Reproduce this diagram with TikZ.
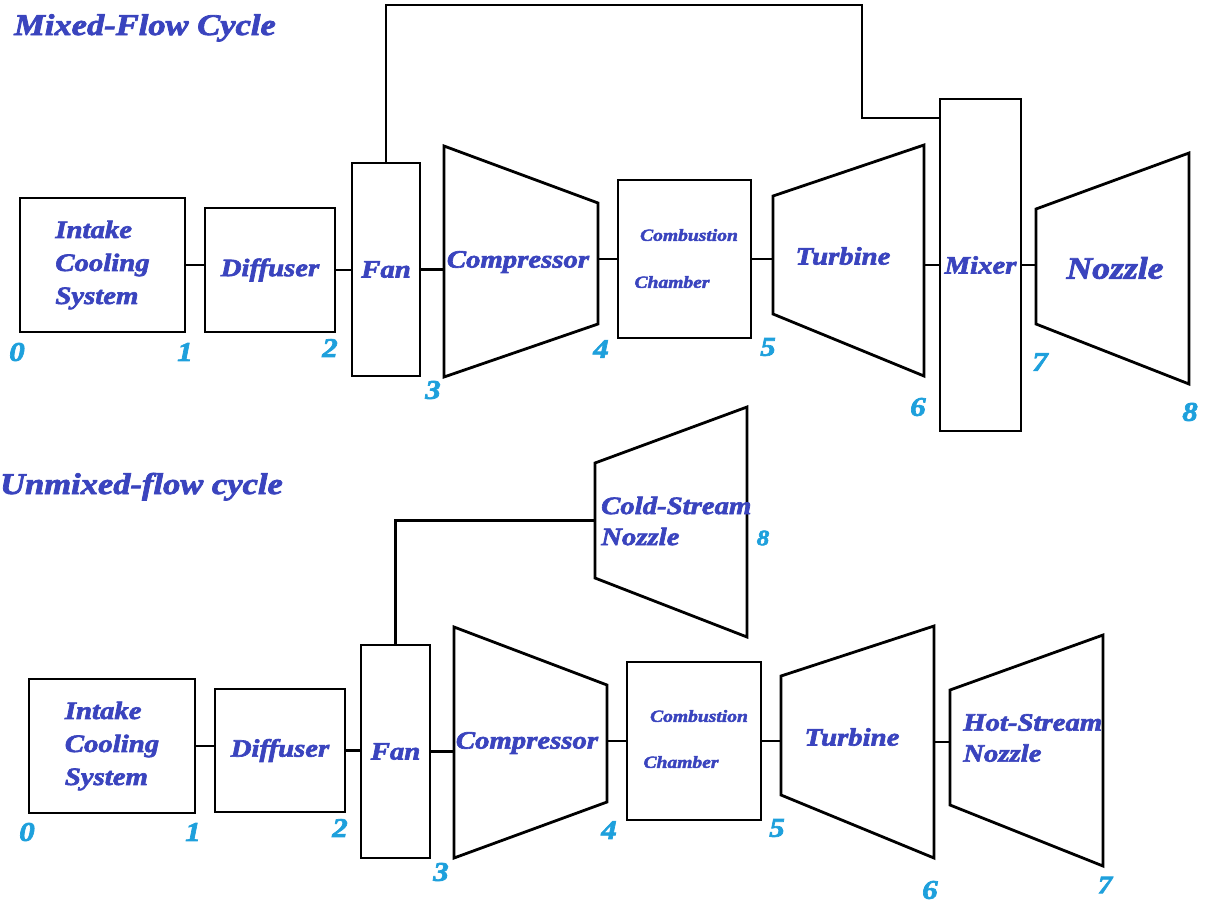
\documentclass[tikz,border=0pt]{standalone}
\usepackage{fontspec}
\newfontfamily\lblfont[UprightFont=* Bold Italic, FakeStretch=1.15, FakeBold=2.6]{Liberation Serif}
\usetikzlibrary{positioning}

\definecolor{txtblue}{RGB}{58,68,190}
\definecolor{numcyan}{RGB}{30,160,220}

\tikzset{
  blk/.style={draw, line width=2.8pt, rectangle, inner sep=0pt, align=left,
    font=\lblfont\fontsize{25}{33}\selectfont, text=txtblue},
  stg/.style={draw, line width=2.8pt, line join=miter},
  wire/.style={draw, line width=2.8pt},
  lbl/.style={inner sep=0pt, align=left, text=txtblue,
    font=\lblfont\fontsize{25}{31}\selectfont},
  small/.style={lbl, font=\lblfont\fontsize{17}{20}\selectfont},
  num/.style={inner sep=0pt, text=numcyan,
    font=\lblfont\fontsize{27}{30}\selectfont},
}

% trapezoid stage: name, x left, y top, y bottom, x right, y top, y bottom
\newcommand\stage[7]{
  \draw[stg] (#2,#3) -- (#5,#6) -- (#5,#7) -- (#2,#4) -- cycle;
  \coordinate (#1-w) at (#2,{(#3+#4)/2});
  \coordinate (#1-e) at (#5,{(#6+#7)/2});
}

\begin{document}
\begin{tikzpicture}[x=1pt, y=-1pt]
  \useasboundingbox (0,0) rectangle (1206,905);

  % mixed-flow cycle
  \node[lbl, anchor=base west, font=\lblfont\fontsize{30}{32}\selectfont]
    (title1) at (14,35) {Mixed-Flow Cycle};

  \node[blk, minimum width=165pt, minimum height=134pt] (intake) at (102.5,265)
    {Intake\\Cooling\\System};
  \node[blk, minimum width=130pt, minimum height=124pt] (diff) at (270,270) {Diffuser};
  \node[blk, minimum width=68pt, minimum height=213pt] (fan) at (386,269.5) {Fan};
  \stage{comp}{444}{146}{377}{598}{203}{324}
  \node[blk, minimum width=133pt, minimum height=158pt] (comb) at (684.5,259) {};
  \stage{turb}{773}{196}{314}{924}{145}{376}
  \node[blk, minimum width=81pt, minimum height=332pt] (mixer) at (980.5,265) {Mixer};
  \stage{noz}{1036}{209}{324}{1189}{153}{384}

  \node[lbl] (comptxt) at (518,262) {Compressor};
  \node[small] (combtxt) at (689,235) {Combustion};
  \node[small] (chamtxt) at (672,282) {Chamber};
  \node[lbl] (turbtxt) at (843,256) {Turbine};
  \node[lbl, font=\lblfont\fontsize{31}{33}\selectfont]
    (noztxt) at (1115,268) {Nozzle};

  \draw[wire] (intake.east) -- (intake.east -| diff.west);
  \draw[wire] (diff.east) -- (diff.east -| fan.west);
  \draw[wire] (fan.east) -- (fan.east -| comp-w);
  \draw[wire] (comb.west) -- (comb.west -| comp-e);
  \draw[wire] (comb.east) -- (comb.east -| turb-w);
  \draw[wire] (mixer.west) -- (mixer.west -| turb-e);
  \draw[wire] (mixer.east) -- (mixer.east -| noz-w);

  \coordinate (byp) at (862,5);
  \coordinate (mixin) at (940,118);
  \draw[wire] (fan.north) |- (byp) |- (mixin);

  \node[num] (n0) at (17,352) {0};
  \node[num] (n1) at (185,352) {1};
  \node[num] (n2) at (330,348) {2};
  \node[num] (n3) at (433,390) {3};
  \node[num] (n4) at (601,349) {4};
  \node[num] (n5) at (768,347) {5};
  \node[num] (n6) at (918,407) {6};
  \node[num] (n7) at (1040,362) {7};
  \node[num] (n8) at (1190,412) {8};

  % unmixed-flow cycle
  \node[lbl, anchor=base west, font=\lblfont\fontsize{30}{32}\selectfont]
    (title2) at (0,494) {Unmixed-flow cycle};

  \node[blk, minimum width=166pt, minimum height=134pt] (intakeB) at (112,746)
    {Intake\\Cooling\\System};
  \node[blk, minimum width=130pt, minimum height=123pt] (diffB) at (280,750.5) {Diffuser};
  \node[blk, minimum width=69pt, minimum height=213pt] (fanB) at (395.5,751.5) {Fan};
  \stage{compB}{454}{627}{858}{607}{685}{802}
  \node[blk, minimum width=134pt, minimum height=158pt] (combB) at (694,741) {};
  \stage{turbB}{781}{676}{795}{934}{626}{858}
  \stage{hot}{950}{690}{805}{1103}{635}{866}
  \stage{cold}{595}{463}{578}{747}{407}{637}

  \node[lbl] (comptxtB) at (527,743) {Compressor};
  \node[small] (combtxtB) at (699,716) {Combustion};
  \node[small] (chamtxtB) at (681,762) {Chamber};
  \node[lbl] (turbtxtB) at (852,737) {Turbine};
  \node[lbl, anchor=west] (hottxt) at (963,738) {Hot-Stream\\Nozzle};
  \node[lbl, anchor=west] (coldtxt) at (601,521) {Cold-Stream\\Nozzle};

  \draw[wire] (intakeB.east) -- (intakeB.east -| diffB.west);
  \draw[wire] (diffB.east) -- (diffB.east -| fanB.west);
  \draw[wire] (fanB.east) -- (fanB.east -| compB-w);
  \draw[wire] (combB.west) -- (combB.west -| compB-e);
  \draw[wire] (combB.east) -- (combB.east -| turbB-w);
  \draw[wire] (turbB-e) -- (turbB-e -| hot-w);
  \draw[wire] (fanB.north) |- (cold-w);

  \node[num] (m0) at (27,832) {0};
  \node[num] (m1) at (193,832) {1};
  \node[num] (m2) at (340,828) {2};
  \node[num] (m3) at (441,872) {3};
  \node[num] (m4) at (609,830) {4};
  \node[num] (m5) at (777,828) {5};
  \node[num] (m6) at (930,890) {6};
  \node[num, font=\lblfont\fontsize{25}{27}\selectfont] (m7) at (1105,885) {7};
  \node[num, font=\lblfont\fontsize{22}{24}\selectfont] (m8) at (763,538) {8};
\end{tikzpicture}
\end{document}
